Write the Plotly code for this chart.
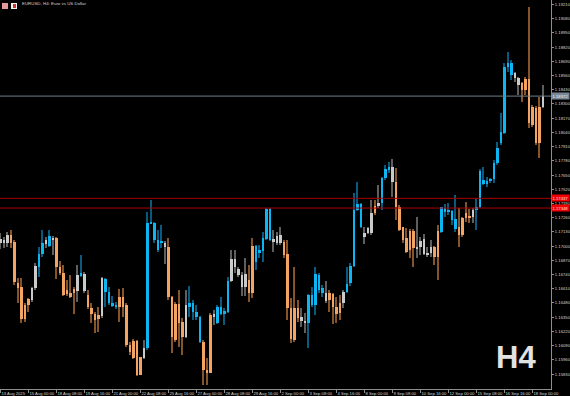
import plotly.graph_objects as go

# ---------------- data (EURUSD H4) ----------------
date_labels = ["13 Aug 2025", "15 Aug 00:00", "18 Aug 08:00", "19 Aug 16:00", "21 Aug 00:00",
               "22 Aug 08:00", "25 Aug 16:00", "27 Aug 00:00", "28 Aug 08:00", "29 Aug 16:00",
               "2 Sep 00:00", "3 Sep 08:00", "4 Sep 16:00", "8 Sep 00:00", "9 Sep 08:00",
               "10 Sep 16:00", "12 Sep 00:00", "15 Sep 08:00", "16 Sep 16:00", "18 Sep 00:00"]
date_label_bars = [0, 8, 16, 24, 32, 40, 48, 56, 64, 72, 80, 88, 96, 104, 112, 120, 128, 136, 144, 152]

opens = [1.17025, 1.17056, 1.17031, 1.17101, 1.17040, 1.16665, 1.16622, 1.16461, 1.16513, 1.16507,
         1.16613, 1.16805, 1.16927, 1.17019, 1.17001, 1.17071, 1.17071, 1.16812, 1.16751, 1.16598,
         1.16574, 1.16604, 1.16592, 1.16726, 1.16744, 1.16552, 1.16430, 1.16375, 1.16369, 1.16360,
         1.16583, 1.16476, 1.16452, 1.16439, 1.16537, 1.16537, 1.16461, 1.16095, 1.16134, 1.16134,
         1.15982, 1.15973, 1.16064, 1.17208, 1.17056, 1.16964, 1.17025, 1.17031, 1.16988, 1.16537,
         1.16470, 1.16470, 1.16308, 1.16165, 1.16446, 1.16400, 1.16354, 1.16125, 1.16125, 1.15866,
         1.16369, 1.16378, 1.16293, 1.16378, 1.16378, 1.16400, 1.16683, 1.16879, 1.16790, 1.16735,
         1.16629, 1.16690, 1.17001, 1.16857, 1.16934, 1.16958, 1.17062, 1.17056, 1.17062, 1.17025,
         1.17101, 1.17040, 1.16927, 1.16430, 1.16430, 1.16430, 1.16348, 1.16317, 1.16299, 1.16461,
         1.16461, 1.16598, 1.16574, 1.16574, 1.16568, 1.16561, 1.16446, 1.16476, 1.16476, 1.16583,
         1.16659, 1.16818, 1.17330, 1.17171, 1.17117, 1.17117, 1.17117, 1.17367, 1.17367, 1.17391,
         1.17620, 1.17702, 1.17720, 1.17589, 1.17361, 1.17171, 1.17071, 1.17141, 1.17141, 1.16979,
         1.17049, 1.17062, 1.16940, 1.16934, 1.16988, 1.17141, 1.17132, 1.17315, 1.17315, 1.17239,
         1.17153, 1.17171, 1.17254, 1.17306, 1.17275, 1.17263, 1.17330, 1.17361, 1.17568, 1.17568,
         1.17598, 1.17611, 1.17757, 1.17940, 1.18038, 1.18642, 1.18565, 1.18581, 1.18535, 1.18489,
         1.18529, 1.18529, 1.18276, 1.18260, 1.17940, 1.18276]
highs = [1.17117, 1.17086, 1.17132, 1.17147, 1.17056, 1.16705, 1.16705, 1.16476, 1.16522, 1.16629,
         1.16842, 1.16995, 1.17147, 1.17086, 1.17147, 1.17092, 1.17086, 1.16866, 1.16827, 1.16690,
         1.16735, 1.16629, 1.16827, 1.16918, 1.16766, 1.16598, 1.16476, 1.16400, 1.16446, 1.16720,
         1.16705, 1.16629, 1.16543, 1.16491, 1.16604, 1.16613, 1.16476, 1.16125, 1.16147, 1.16141,
         1.15988, 1.16141, 1.17315, 1.17422, 1.17223, 1.17147, 1.17193, 1.17049, 1.17071, 1.16543,
         1.16491, 1.16598, 1.16339, 1.16598, 1.16638, 1.16507, 1.16461, 1.16360, 1.16141, 1.15973,
         1.16391, 1.16415, 1.16461, 1.16531, 1.16430, 1.16714, 1.16964, 1.16964, 1.16812, 1.16766,
         1.16888, 1.16827, 1.17071, 1.17010, 1.17010, 1.17132, 1.17345, 1.17345, 1.17147, 1.17132,
         1.17178, 1.17056, 1.17056, 1.16522, 1.16812, 1.16507, 1.16430, 1.16385, 1.16561, 1.16629,
         1.16812, 1.16751, 1.16644, 1.16683, 1.16598, 1.16568, 1.16537, 1.16552, 1.16598, 1.16812,
         1.16842, 1.17489, 1.17589, 1.17391, 1.17178, 1.17171, 1.17422, 1.17422, 1.17559, 1.17629,
         1.17742, 1.17772, 1.17794, 1.17711, 1.17376, 1.17178, 1.17162, 1.17153, 1.17153, 1.17263,
         1.17086, 1.17110, 1.16995, 1.17056, 1.17001, 1.17193, 1.17361, 1.17385, 1.17391, 1.17330,
         1.17467, 1.17345, 1.17263, 1.17406, 1.17336, 1.17345, 1.17437, 1.17702, 1.17727, 1.17635,
         1.17620, 1.17788, 1.17955, 1.18215, 1.18672, 1.18779, 1.18703, 1.18596, 1.18550, 1.18504,
         1.18550, 1.19191, 1.18291, 1.18282, 1.18367, 1.18474]
lows = [1.16970, 1.16979, 1.16995, 1.16979, 1.16644, 1.16476, 1.16293, 1.16308, 1.16400, 1.16491,
        1.16598, 1.16720, 1.16903, 1.16979, 1.16995, 1.16918, 1.16696, 1.16735, 1.16543, 1.16543,
        1.16522, 1.16378, 1.16491, 1.16714, 1.16568, 1.16427, 1.16299, 1.16202, 1.16217, 1.16339,
        1.16446, 1.16461, 1.16439, 1.16421, 1.16308, 1.16354, 1.16080, 1.16003, 1.15964, 1.15811,
        1.15817, 1.15964, 1.16049, 1.17202, 1.17025, 1.16949, 1.16979, 1.16836, 1.16507, 1.16019,
        1.16125, 1.16080, 1.16003, 1.16156, 1.16354, 1.16324, 1.16324, 1.16110, 1.15729, 1.15729,
        1.15836, 1.16278, 1.16287, 1.16369, 1.16278, 1.16391, 1.16674, 1.16751, 1.16720, 1.16543,
        1.16543, 1.16491, 1.16522, 1.16781, 1.16888, 1.16857, 1.17056, 1.17049, 1.16949, 1.17010,
        1.17010, 1.16888, 1.16324, 1.16110, 1.16125, 1.16308, 1.16263, 1.16202, 1.16064, 1.16446,
        1.16369, 1.16568, 1.16537, 1.16476, 1.16400, 1.16287, 1.16293, 1.16324, 1.16430, 1.16568,
        1.16635, 1.16812, 1.17324, 1.17162, 1.17019, 1.17110, 1.17101, 1.17284, 1.17345, 1.17330,
        1.17605, 1.17666, 1.17452, 1.17239, 1.17141, 1.17025, 1.16934, 1.16888, 1.16812, 1.16888,
        1.16918, 1.16918, 1.16903, 1.16903, 1.16827, 1.16690, 1.17123, 1.17269, 1.17284, 1.17193,
        1.17132, 1.16995, 1.17086, 1.17223, 1.17208, 1.17214, 1.17147, 1.17345, 1.17559, 1.17544,
        1.17574, 1.17574, 1.17742, 1.17925, 1.18025, 1.18596, 1.18520, 1.18504, 1.18382, 1.18321,
        1.18382, 1.18077, 1.18093, 1.17925, 1.17803, 1.18260]
closes = [1.17062, 1.17031, 1.17101, 1.17031, 1.16668, 1.16619, 1.16330, 1.16330, 1.16461, 1.16613,
          1.16818, 1.16927, 1.17031, 1.17056, 1.17092, 1.17056, 1.16805, 1.16751, 1.16552, 1.16561,
          1.16531, 1.16574, 1.16735, 1.16751, 1.16592, 1.16439, 1.16375, 1.16324, 1.16330, 1.16705,
          1.16699, 1.16583, 1.16476, 1.16461, 1.16446, 1.16446, 1.16095, 1.16034, 1.15973, 1.15820,
          1.15820, 1.16064, 1.17208, 1.17223, 1.17208, 1.17056, 1.17049, 1.16995, 1.16531, 1.16171,
          1.16141, 1.16299, 1.16165, 1.16461, 1.16476, 1.16476, 1.16400, 1.16354, 1.15866, 1.15842,
          1.15842, 1.16354, 1.16439, 1.16439, 1.16409, 1.16683, 1.16879, 1.16805, 1.16735, 1.16629,
          1.16744, 1.16574, 1.16574, 1.17001, 1.16964, 1.17077, 1.17339, 1.17339, 1.17034, 1.17095,
          1.17025, 1.16918, 1.16430, 1.16147, 1.16141, 1.16339, 1.16317, 1.16299, 1.16552, 1.16552,
          1.16744, 1.16735, 1.16613, 1.16500, 1.16507, 1.16439, 1.16378, 1.16385, 1.16583, 1.16653,
          1.16818, 1.17330, 1.17385, 1.17385, 1.17086, 1.17162, 1.17306, 1.17300, 1.17397, 1.17620,
          1.17702, 1.17720, 1.17589, 1.17361, 1.17147, 1.17056, 1.16949, 1.16964, 1.16979, 1.16995,
          1.16988, 1.16927, 1.16918, 1.16995, 1.16903, 1.16903, 1.17354, 1.17345, 1.17330, 1.17324,
          1.17245, 1.17101, 1.17101, 1.17254, 1.17254, 1.17330, 1.17361, 1.17690, 1.17605, 1.17598,
          1.17611, 1.17757, 1.17894, 1.18047, 1.18642, 1.18678, 1.18672, 1.18535, 1.18474, 1.18428,
          1.18428, 1.18123, 1.18108, 1.17940, 1.18276, 1.18372]
# body colour of every candle: b = blue, o = orange, g = grey
candle_colors = list("ggg" "oooooo" "gg" "bb" "g" "b" "g" "oooooo" "g" "b" "g" "oooo" "g" "bbbb"
                     "ooooooo" "g" "bbbbb" "g" "ooooo" "g" "bbbb" "ooo" "g" "bbbb" "ggggg" "oo"
                     "bbbbb" "ggg" "ooooo" "gg" "bbbbb" "g" "oooo" "g" "bbbbb" "ggg" "o" "g" "bbb"
                     "g" "oooooo" "ggggg" "oo" "bbbbb" "oooo" "g" "bbbbbbbbbbb" "gg" "oooooo" "g")

price_ticks = [1.19210, 1.19080, 1.18950, 1.18820, 1.18690, 1.18560, 1.18430, 1.18300, 1.18170,
               1.18040, 1.17910, 1.17780, 1.17650, 1.17520, 1.17390, 1.17260, 1.17130, 1.17000,
               1.16870, 1.16740, 1.16610, 1.16480, 1.16350, 1.16220, 1.16090, 1.15960, 1.15830]
level_prices = [1.17437, 1.17348]
title_text = "EURUSD, H4: Euro vs US Dollar"
timeframe_text = "H4"

# ---------------- styling ----------------
BODY = {"b": "#0BB6F2", "o": "#F4A462", "g": "#CACACA"}
WICK = {"b": "#0A5A80", "o": "#85542A", "g": "#5E5E5E"}
AXIS = "#8E8E8E"
TXT = "#D4D4D4"
FONT = "Liberation Sans Narrow, Liberation Sans, Arial, sans-serif"

n = min(len(opens), len(highs), len(lows), len(closes), len(candle_colors))
bars = list(range(n))

fig = go.Figure()
for key in ["g", "o", "b"]:
    idx = [i for i in bars if candle_colors[i] == key]
    fig.add_bar(x=idx, base=[lows[i] for i in idx], y=[highs[i] - lows[i] for i in idx],
                width=0.29, marker=dict(color=WICK[key], line=dict(width=0)),
                hoverinfo="skip", showlegend=False)
for key in ["g", "o", "b"]:
    idx = [i for i in bars if candle_colors[i] == key]
    fig.add_bar(x=idx, base=[min(opens[i], closes[i]) for i in idx],
                y=[max(abs(closes[i] - opens[i]), 0.00003) for i in idx],
                width=0.8, marker=dict(color=BODY[key], line=dict(width=0)),
                hoverinfo="skip", showlegend=False)

# horizontal levels
for lv in level_prices:
    fig.add_hline(y=lv, line=dict(color="#A80000", width=1))
    fig.add_annotation(x=1, xref="paper", y=lv, yref="y", xanchor="left", yanchor="middle",
                       text=f"{lv:.5f}", showarrow=False, bgcolor="#F00000",
                       font=dict(size=4.2, color="#FFE0E0", family=FONT), borderpad=0.5)
last_price = closes[n - 1]
fig.add_hline(y=last_price, line=dict(color="#6E7E8E", width=1))
fig.add_annotation(x=1, xref="paper", y=last_price, yref="y", xanchor="left", yanchor="middle",
                   text=f"{last_price:.5f}", showarrow=False, bgcolor="#7A8896",
                   font=dict(size=4.2, color="#F0F0F0", family=FONT), borderpad=0.5)

# title & timeframe watermark
fig.add_annotation(x=20 / 551, xref="paper", y=1 - 3.5 / 389, yref="paper", xanchor="left",
                   yanchor="middle", text=title_text, showarrow=False,
                   font=dict(size=4.4, color=TXT, family=FONT))
fig.add_shape(type="rect", xref="paper", yref="paper", x0=2 / 551, x1=8 / 551,
              y0=1 - 9 / 389, y1=1 - 3 / 389, fillcolor="#E49A9A", line=dict(width=0))
fig.add_shape(type="rect", xref="paper", yref="paper", x0=11 / 551, x1=17 / 551,
              y0=1 - 9 / 389, y1=1 - 3 / 389, fillcolor="#F2F2F2", line=dict(width=0))
fig.add_shape(type="rect", xref="paper", yref="paper", x0=13 / 551, x1=16 / 551,
              y0=1 - 8 / 389, y1=1 - 4 / 389, fillcolor="#D03030", line=dict(width=0))
fig.add_annotation(x=538 / 551, xref="paper", y=1 - 357 / 389, yref="paper", xanchor="right",
                   yanchor="middle", text="<b>" + timeframe_text + "</b>", showarrow=False,
                   font=dict(size=31, color="#E2E2E2", family=FONT))

fig.update_layout(
    width=570, height=396,
    margin=dict(l=0, r=19, t=0, b=7, autoexpand=False),
    paper_bgcolor="black", plot_bgcolor="black",
    barmode="overlay", bargap=0, showlegend=False,
    font=dict(family=FONT, size=4.2, color=TXT),
)
fig.update_xaxes(range=[-0.143, 157.29], tickmode="array", tickvals=date_label_bars,
                 ticktext=date_labels, ticks="outside", ticklen=3, tickcolor=AXIS, tickwidth=1,
                 showline=True, linecolor=AXIS, linewidth=1, showgrid=False, zeroline=False,
                 tickangle=0, automargin=False,
                 ticklabelposition="outside right", tickfont=dict(size=4.2, color=TXT, family=FONT))
fig.update_yaxes(side="right", range=[1.15693, 1.19251], tickmode="array", tickvals=price_ticks,
                 ticktext=[f"{v:.5f}" for v in price_ticks], ticks="outside", ticklen=2,
                 tickcolor=AXIS, showline=True, linecolor=AXIS, linewidth=1, showgrid=False,
                 zeroline=False, automargin=False,
                 tickfont=dict(size=4.2, color=TXT, family=FONT))

fig.write_html("out.html")
